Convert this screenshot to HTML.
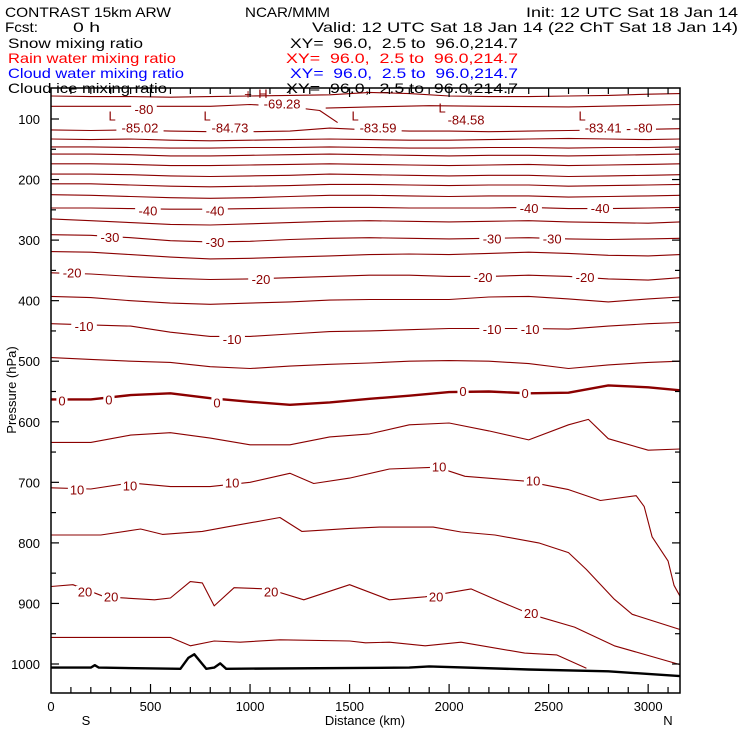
<!DOCTYPE html>
<html><head><meta charset="utf-8"><style>
html,body{margin:0;padding:0;background:#fff;}
svg{display:block;font-family:"Liberation Sans",sans-serif;}
svg text{white-space:pre;}
</style></head><body>
<svg id="chart" width="740" height="740" viewBox="0 0 740 740" xml:space="preserve">
<g font-size="14">
<text x="5" y="17" textLength="166" lengthAdjust="spacingAndGlyphs">CONTRAST 15km ARW</text>
<text x="245" y="17" textLength="85" lengthAdjust="spacingAndGlyphs">NCAR/MMM</text>
<text x="526" y="17" textLength="212" lengthAdjust="spacingAndGlyphs">Init: 12 UTC Sat 18 Jan 14</text>
<text x="5" y="32" textLength="33" lengthAdjust="spacingAndGlyphs">Fcst:</text>
<text x="73" y="32" textLength="27" lengthAdjust="spacingAndGlyphs">0 h</text>
<text x="312" y="32" textLength="426" lengthAdjust="spacingAndGlyphs">Valid: 12 UTC Sat 18 Jan 14 (22 ChT Sat 18 Jan 14)</text>
<text x="8" y="48" textLength="135" lengthAdjust="spacingAndGlyphs">Snow mixing ratio</text>
<text x="290" y="48" textLength="228" lengthAdjust="spacingAndGlyphs">XY=  96.0,  2.5 to  96.0,214.7</text>
<text x="8" y="63" fill="#ff0000" textLength="168" lengthAdjust="spacingAndGlyphs">Rain water mixing ratio</text>
<text x="286" y="63" fill="#ff0000" textLength="232" lengthAdjust="spacingAndGlyphs">XY=  96.0,  2.5 to  96.0,214.7</text>
<text x="8" y="78" fill="#0000ff" textLength="176" lengthAdjust="spacingAndGlyphs">Cloud water mixing ratio</text>
<text x="290" y="78" fill="#0000ff" textLength="228" lengthAdjust="spacingAndGlyphs">XY=  96.0,  2.5 to  96.0,214.7</text>
<text x="8" y="93" textLength="159" lengthAdjust="spacingAndGlyphs">Cloud ice mixing ratio</text>
<text x="286" y="93" textLength="232" lengthAdjust="spacingAndGlyphs">XY=  96.0,  2.5 to  96.0,214.7</text>
</g>
<g id="plot"></g>
<text font-size="13" transform="translate(16,390) rotate(-90)" text-anchor="middle">Pressure (hPa)</text>
<text font-size="13" x="365" y="725" text-anchor="middle">Distance (km)</text>
<text font-size="13" x="86" y="725" text-anchor="middle">S</text>
<text font-size="13" x="668" y="725" text-anchor="middle">N</text>
</svg>
<script>
// ---- data ----
const yTicks = [100,200,300,400,500,600,700,800,900,1000];
const xTicks = [0,500,1000,1500,2000,2500,3000];
const cD = [0,200,400,600,800,1000,1200,1400,1600,1800,2000,2200,2400,2600,2800,3000,3160];
const upperLevels = [
 [62,63,63,64,63,62,61,60,56,58,62,63,63,62,61,59,58],
 [118,119,118,120,121,121,120,115,118,120,120,121,120,119,118,117,116],
 [133,134,133,135,136,135,134,133,134,135,135,134,133,132,133,134,133],
 [146,146,147,148,148,147,147,146,147,148,148,147,147,148,147,147,146],
 [158,158,159,161,161,160,159,158,159,160,161,160,160,161,160,159,158],
 [174,174,175,177,177,176,175,174,175,176,177,176,175,177,176,175,174],
 [191,191,192,194,195,194,193,191,192,193,194,193,193,195,194,193,192],
 [207,207,209,211,212,211,210,208,208,209,210,209,209,211,210,209,208],
 [225,226,228,230,231,230,228,226,226,227,228,227,227,229,228,227,226],
 [247,247,248,249,249,248,247,246,246,247,247,247,246,248,248,247,246],
 [265,268,271,274,275,273,271,269,268,269,270,269,268,270,271,272,270],
 [291,292,296,301,303,302,299,297,296,297,298,297,296,298,299,298,297],
 [319,320,324,328,331,330,328,326,324,323,324,322,320,322,325,326,324],
 [354,356,360,363,365,364,362,360,358,358,360,360,358,360,364,366,362],
 [393,395,400,404,406,404,402,399,398,398,398,394,393,397,402,397,394],
 [438,440,442,452,459,459,455,451,450,448,446,446,446,447,442,438,436],
 [494,497,500,502,509,512,508,505,503,500,499,500,504,512,506,502,500]
];
const zeroLine = [563,563,556,553,561,567,572,568,562,557,551,550,553,552,540,543,548];
const l634D = [0,200,400,600,800,1000,1200,1400,1600,1800,2000,2200,2400,2600,2700,2800,3000,3160];
const l634P = [634,634,622,618,627,638,638,625,620,605,602,615,630,605,596,628,647,645];
const l10D = [0,200,400,600,800,1000,1200,1320,1500,1700,1940,2080,2380,2600,2760,2940,2980,3020,3100,3130,3160];
const l10P = [709,711,701,707,707,700,685,702,693,678,675,690,698,712,730,722,740,790,830,870,888];
const l787D = [0,250,450,560,760,880,1150,1260,1500,1650,1920,2060,2230,2450,2600,2690,2830,2920,3160];
const l787P = [787,787,777,786,781,774,758,781,776,774,774,782,787,800,816,844,893,918,943];
const l20D = [0,110,270,520,600,700,760,820,920,1090,1270,1500,1700,1880,2110,2250,2410,2630,2830,3160];
const l20P = [872,869,889,894,891,864,866,904,874,876,894,869,894,889,876,896,918,939,970,1001];
const l956D = [0,600,700,820,950,1150,1500,1580,1700,1880,2060,2380,2540,2690];
const l956P = [956,956,970,962,964,960,962,965,964,970,964,982,985,1007];
const topLeftD = [0,400,800,1000,1200,1350,1440];
const topLeftP = [79,79,79,76,80,86,106];
const topRightD = [1380,1600,1900,2200,2600,2900,3160];
const topRightP = [82,80,78,79,80,78,76];
const groundD = [0,200,220,240,650,690,720,760,780,820,850,880,1800,1900,2400,2800,3160];
const groundP = [1006,1006,1002,1006,1008,990,984,1000,1008,1006,999,1008,1006,1004,1009,1012,1020];
const labelD = [467,447,307,784,899,1065,990,1161,1528,1643,1965,2085,2668,2774,2975,
 487,824,2402,2759,296,824,2216,2518,106,1055,2171,2683,166,910,2216,2407,
 55,291,834,2070,2382,131,397,910,1950,2422,171,302,1106,1935,2412];
const labelP = [84,115,95,95,115,59,59,75,95,115,82,102,95,115,115,
 252,252,248,248,296,304,298,298,354,365,362,362,443,464,448,448,
 566,564,569,550,553,713,706,701,675,698,881,889,881,889,917];
const labelText = ["-80","-85.02","L","L","-84.73","H","+","-69.28","L","-83.59","L","-84.58","L","-83.41","-80",
 "-40","-40","-40","-40","-30","-30","-30","-30","-20","-20","-20","-20","-10","-10","-10","-10",
 "0","0","0","0","0","10","10","10","10","10","20","20","20","20","20"];

// ---- axes ----
const X0=51, X1=680, Y0=88, Y1=693, DMAX=3160;
const xs = d => X0 + d*(X1-X0)/DMAX;
const ys = p => 119 + (p-100)*(664-119)/900;
const NS="http://www.w3.org/2000/svg";
const plot=document.getElementById('plot');
function mk(tag,attrs){const e=document.createElementNS(NS,tag);for(const k in attrs)e.setAttribute(k,attrs[k]);return e;}
function line(D,P,name,w,col){
  let d='';D.forEach((v,i)=>{d+=(i?'L':'M')+xs(v).toFixed(1)+','+ys(P[i]).toFixed(1);});
  const el=mk('path',{d:d,fill:'none',stroke:col||'#8b0000','stroke-width':w||1.1,'stroke-linejoin':'round'});
  
  
  plot.appendChild(el);
}
upperLevels.forEach((P,i)=>line(cD,P,'isotherm-upper-'+i));
line(topLeftD,topLeftP,'isotherm-minus80-left');
line(topRightD,topRightP,'isotherm-minus80-right');
line(cD,zeroLine,'isotherm-zero',2.4);
line(l634D,l634P,'isotherm-5');
line(l10D,l10P,'isotherm-10');
line(l787D,l787P,'isotherm-15');
line(l20D,l20P,'isotherm-20');
line(l956D,l956P,'isotherm-25');
line(groundD,groundP,'terrain-line',2.4,'#000');
labelText.forEach((t,i)=>{
  const x=xs(labelD[i]), y=ys(labelP[i]);
  const isLH = (t==='L'||t==='H'||t==='+');
  if(!isLH){
    const bg=mk('rect',{x:x-t.length*3.6-2,y:y-6,width:t.length*7.2+4,height:12,fill:'#fff'});
    
    
    plot.appendChild(bg);
  }
  const tx=mk('text',{x:x,y:y+4.5,'font-size':13,'text-anchor':'middle',fill:'#8b0000'});
  tx.textContent=t;
  
  
  plot.appendChild(tx);
});
const fr=mk('rect',{x:X0,y:Y0,width:X1-X0,height:Y1-Y0,fill:'none',stroke:'#000','stroke-width':1.5});


plot.appendChild(fr);
for(let p=100;p<=1000;p+=50){
  const len = p%100===0?8:5, y=ys(p);
  const t1=mk('line',{x1:X0,y1:y,x2:X0+len,y2:y,stroke:'#000','stroke-width':1.2});
  
  
  plot.appendChild(t1);
  const t2=mk('line',{x1:X1,y1:y,x2:X1-len,y2:y,stroke:'#000','stroke-width':1.2});
  
  
  plot.appendChild(t2);
}
yTicks.forEach(p=>{
  const t=mk('text',{x:40,y:ys(p)+5,'font-size':13,'text-anchor':'end'});
  t.textContent=p;
  
  
  plot.appendChild(t);
});
for(let d=100;d<DMAX;d+=100){
  const len = d%500===0?9:6, x=xs(d);
  const b=mk('line',{x1:x,y1:Y1,x2:x,y2:Y1-len,stroke:'#000','stroke-width':1.2});
  
  
  plot.appendChild(b);
  const t=mk('line',{x1:x,y1:Y0,x2:x,y2:Y0+len,stroke:'#000','stroke-width':1.2});
  
  
  plot.appendChild(t);
}
xTicks.forEach(d=>{
  const t=mk('text',{x:xs(d),y:711,'font-size':13,'text-anchor':'middle'});
  t.textContent=d;
  
  
  plot.appendChild(t);
});
</script>
</body></html>
